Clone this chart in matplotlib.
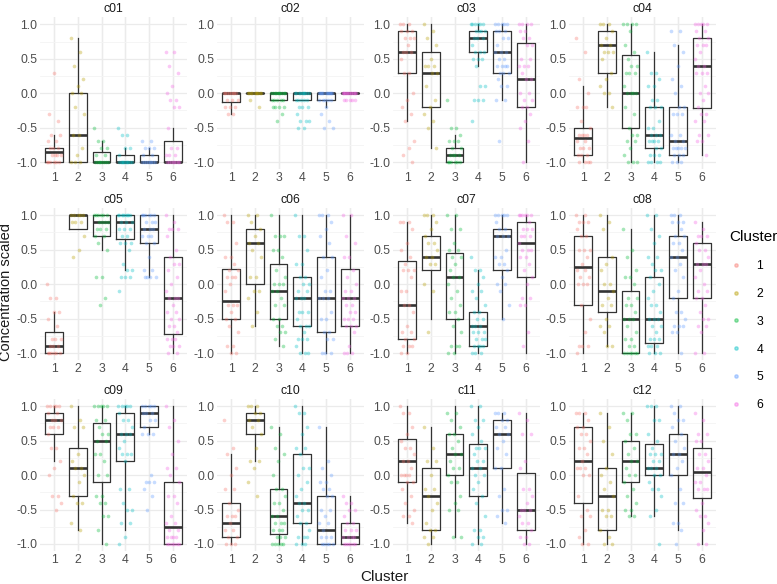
import numpy as np
import matplotlib
matplotlib.use('Agg')
from matplotlib import pyplot as plt
from matplotlib.lines import Line2D

# cluster colours (ggplot hue palette)
colors = ['#F8766D', '#B79F00', '#00BA38', '#00BFC4', '#619CFF', '#F564E3']
clusters = [1, 2, 3, 4, 5, 6]
panels = ['c01', 'c02', 'c03', 'c04', 'c05', 'c06', 'c07', 'c08', 'c09', 'c10', 'c11', 'c12']

# box stats per cluster: (whisker low, q1, median, q3, whisker high)
c01_box = [(-1.0, -1.0, -0.85, -0.8, -0.6), (-1.0, -1.0, -0.6, 0.0, 0.8), (-1.0, -1.0, -1.0, -0.85, -0.7),
           (-1.0, -1.0, -1.0, -0.9, -0.8), (-1.0, -1.0, -1.0, -0.9, -0.8), (-1.0, -1.0, -1.0, -0.7, -0.5)]
c02_box = [(-0.3, -0.125, 0.0, 0.0, 0.0), (0.0, 0.0, 0.0, 0.0, 0.0), (-0.1, -0.1, 0.0, 0.0, 0.0),
           (-0.1, -0.1, 0.0, 0.0, 0.0), (-0.2, -0.1, 0.0, 0.0, 0.0), (0.0, 0.0, 0.0, 0.0, 0.0)]
c03_box = [(-0.4, 0.3, 0.6, 0.9, 1.0), (-0.8, -0.2, 0.3, 0.6, 1.0), (-1.0, -1.0, -0.9, -0.8, -0.6),
           (0.4, 0.6, 0.8, 0.9, 1.0), (-0.1, 0.3, 0.6, 0.9, 1.0), (-1.0, -0.2, 0.2, 0.73, 1.0)]
c04_box = [(-1.0, -0.9, -0.65, -0.5, 0.1), (-0.2, 0.3, 0.7, 0.9, 1.0), (-1.0, -0.5, 0.0, 0.55, 1.0),
           (-1.0, -0.8, -0.6, -0.2, 0.6), (-1.0, -0.9, -0.7, -0.2, 0.7), (-0.9, -0.22, 0.4, 0.8, 1.0)]
c05_box = [(-1.0, -1.0, -0.9, -0.7, -0.4), (0.8, 0.8, 1.0, 1.0, 1.0), (0.5, 0.7, 0.9, 1.0, 1.0),
           (0.2, 0.65, 0.9, 1.0, 1.0), (0.1, 0.6, 0.8, 1.0, 1.0), (-1.0, -0.72, -0.2, 0.4, 1.0)]
c06_box = [(-1.0, -0.5, -0.25, 0.22, 1.0), (-0.6, 0.0, 0.6, 0.8, 1.0), (-0.9, -0.5, -0.1, 0.3, 1.0),
           (-1.0, -0.6, -0.2, 0.1, 1.0), (-1.0, -0.7, -0.2, 0.4, 1.0), (-1.0, -0.6, -0.2, 0.22, 1.0)]
c07_box = [(-1.0, -0.8, -0.3, 0.33, 0.9), (-0.5, 0.2, 0.4, 0.7, 1.0), (-1.0, -0.5, 0.1, 0.45, 1.0),
           (-1.0, -0.9, -0.6, -0.4, 0.2), (-0.5, 0.2, 0.7, 0.8, 1.0), (-1.0, 0.1, 0.6, 0.9, 1.0)]
c08_box = [(-1.0, -0.3, 0.25, 0.7, 1.0), (-0.9, -0.4, -0.1, 0.4, 1.0), (-1.0, -1.0, -0.5, -0.1, 0.8),
           (-1.0, -0.85, -0.5, 0.1, 1.0), (-1.0, -0.2, 0.4, 0.7, 1.0), (-1.0, -0.2, 0.3, 0.6, 0.9)]
c09_box = [(0.2, 0.6, 0.8, 0.9, 1.0), (-0.8, -0.3, 0.1, 0.4, 1.0), (-1.0, -0.1, 0.5, 0.75, 1.0),
           (-0.8, 0.2, 0.6, 0.9, 1.0), (0.6, 0.7, 0.9, 1.0, 1.0), (-1.0, -1.0, -0.75, -0.1, 1.0)]
c10_box = [(-1.0, -0.9, -0.7, -0.4, 0.3), (0.2, 0.6, 0.8, 0.9, 1.0), (-1.0, -0.85, -0.6, -0.2, 0.7),
           (-1.0, -0.7, -0.4, 0.3, 1.0), (-1.0, -1.0, -0.8, -0.3, 0.7), (-1.0, -1.0, -0.9, -0.7, -0.3)]
c11_box = [(-0.7, -0.1, 0.2, 0.53, 1.0), (-1.0, -0.8, -0.3, 0.1, 0.7), (-0.9, 0.0, 0.3, 0.6, 1.0),
           (-1.0, -0.3, 0.1, 0.45, 1.0), (-0.7, 0.1, 0.6, 0.8, 0.9), (-1.0, -0.8, -0.5, 0.03, 0.9)]
c12_box = [(-1.0, -0.4, 0.2, 0.7, 0.9), (-1.0, -0.8, -0.3, 0.1, 0.9), (-0.6, -0.1, 0.2, 0.5, 0.9),
           (-0.6, 0.0, 0.1, 0.45, 1.0), (-0.8, 0.0, 0.3, 0.6, 1.0), (-1.0, -0.33, 0.05, 0.4, 1.0)]

# observed values per cluster, "v*n" = value repeated n times
c01_pts = ['-1.0*6 -0.9*4 -0.8*3 -0.7*2 -0.6*2 0.3 -0.3 -0.4',
           '0.8 0.6 0.4 0.2 0.1 0.0 0.0 -0.2 -0.3 -0.6 -0.6 -0.8 -0.9 -1.0*3',
           '-0.5 -0.7*2 -0.8*2 -0.9*2 -1.0*8',
           '-0.5 -0.6*2 -0.8*2 -0.9 -1.0*10',
           '-0.7*2 -0.8*3 -0.9*2 -1.0*8',
           '0.6*2 0.4 0.3 0.1 0.0 -0.1*2 -0.2*2 -0.5 -0.8*2 -0.9*3 -1.0*8']
c02_pts = ['0.0*8 -0.1*3 -0.2*3 -0.3*2',
           '0.0*10 -0.1 -0.2',
           '0.0*10 -0.1*5 -0.2*4 -0.3 -0.4',
           '0.0*10 -0.1*5 -0.2*3 -0.3 -0.4*3 -0.5*2',
           '0.0*12 -0.1*5 -0.2 -0.3 -0.4 -0.5*2',
           '0.0*14 -0.1*5']
c03_pts = ['1.0*3 0.9*3 0.8*3 0.7 0.6*3 0.5 0.3*2 0.0 -0.1 -0.2 -0.3 -0.4 -0.7 -0.8 -0.9 -1.0',
           '1.0 0.9 0.8 0.7 0.5 0.4*3 0.3*2 0.1 -0.1 -0.2 -0.3 -0.4 -0.5 -0.8',
           '-0.1 -0.5*2 -0.6 -0.7*3 -0.8*2 -0.9*4 -1.0*6',
           '1.0*6 0.9*4 0.8*3 0.7 0.6*3 0.5*3 0.4 0.1*2 -0.1*3 -0.4',
           '1.0*5 0.9*3 0.8*2 0.7 0.6*3 0.5*2 0.4*4 0.3*3 0.2 0.1*2 -0.1*2 -0.7',
           '1.0*4 0.9*2 0.8*2 0.7*2 0.5*2 0.4*3 0.3 0.2*2 0.0*2 -0.1*2 -0.2*2 -0.3 -0.4 -0.5 -0.7 -1.0']
c04_pts = ['0.8 0.6 0.2 0.0 -0.2*3 -0.4 -0.5 -0.6*4 -0.7*2 -0.8*3 -0.9*3 -1.0*4',
           '1.0*3 0.9 0.8 0.7*2 0.6*3 0.5 0.3 0.2 0.1 0.0*2 -0.2',
           '1.0*4 0.9 0.7 0.6 0.5 0.4*2 0.3*3 0.1 0.0*4 -0.2 -0.3 -0.5 -0.6*2 -0.7*2 -0.8 -0.9 -1.0*3',
           '0.6 0.3*2 0.2 0.1*2 -0.1*2 -0.2*3 -0.4 -0.5*2 -0.6*3 -0.7*4 -0.8*2 -0.9*3 -1.0*4',
           '0.9*2 0.7 0.6 0.4 0.2 0.1 0.0 -0.2*2 -0.3*3 -0.6*2 -0.7*2 -0.8*5 -0.9*3 -1.0*3',
           '1.0*5 0.9*2 0.8*2 0.7*3 0.6 0.5 0.4*2 0.3*3 0.1 0.0*2 -0.1 -0.2 -0.3*2 -0.4*2 -0.6*2 -0.7*2 -0.9']
c05_pts = ['0.0 -0.2*2 -0.4*2 -0.5 -0.6 -0.8*3 -0.9*3 -1.0*6',
           '1.0*5 0.9*3 0.7 0.5 0.4',
           '1.0*6 0.9*4 0.8*3 0.7*2 0.6 0.5 0.1*2 -0.2 -0.3',
           '1.0*8 0.9*3 0.8*3 0.7*2 0.6*3 0.5 0.3 0.2*2 0.1*3 -0.1',
           '1.0*6 0.9*3 0.8*3 0.7*3 0.6*2 0.4 0.2*2 0.1*4',
           '1.0 0.9 0.8*3 0.7 0.5 0.4 0.3*2 0.2 0.1 0.0 -0.1 -0.2*3 -0.3 -0.4*2 -0.5*2 -0.6*2 -0.7 -0.8*3 -0.9*3 -1.0*2']
c06_pts = ['1.0 0.9*2 0.6 0.4*2 0.3 0.2*2 0.1*3 0.0 -0.1 -0.3*3 -0.4 -0.5*2 -0.6 -0.7 -0.9*2 -1.0*2',
           '1.0*2 0.9 0.8 0.7 0.6*2 0.5 0.4 0.1*2 -0.1*2 -0.2 -0.4 -0.6',
           '1.0 0.7*3 0.5*2 0.4 0.2 0.1 0.0*3 -0.1*2 -0.2 -0.3*2 -0.5*2 -0.6*2 -0.7*2 -0.8 -0.9',
           '1.0 0.7*2 0.5 0.3*2 0.1*2 0.0*2 -0.1*2 -0.2*3 -0.4*3 -0.5 -0.6*3 -0.7 -0.8*3 -0.9 -1.0*3',
           '1.0*3 0.9 0.8 0.7 0.6 0.4*2 0.2 0.1 -0.1*2 -0.2*3 -0.4 -0.5*2 -0.7*2 -0.8*2 -1.0*3',
           '1.0*2 0.7 0.6 0.4*2 0.2 0.1 0.0 -0.1*2 -0.2*3 -0.3*2 -0.4*2 -0.5*3 -0.6*3 -0.7 -0.9 -1.0*3']
c07_pts = ['0.9*3 0.8 0.6 0.5 0.4 0.3 0.2*3 0.1 -0.1*2 -0.3*2 -0.4 -0.6 -0.7*2 -0.8*2 -0.9*3 -1.0*2',
           '1.0*3 0.9 0.8 0.7 0.6*2 0.5 0.4*2 0.3*2 0.0 -0.1 -0.7',
           '1.0*2 0.8*2 0.6 0.5*2 0.4*2 0.3 0.2 0.1*2 0.0 -0.1 -0.2 -0.3 -0.4*2 -0.5 -0.6 -0.7 -0.9*3 -1.0*2',
           '0.4 0.2*2 0.1 0.0 -0.1*2 -0.2 -0.3 -0.4*2 -0.5*2 -0.6*3 -0.7*3 -0.8*3 -0.9*4 -1.0*3',
           '1.0*5 0.9 0.8*2 0.7*3 0.5 0.4*2 0.3*2 0.2 0.1 0.0*2 -0.1 -0.3 -0.5',
           '1.0*6 0.9 0.8*3 0.7*3 0.6 0.5*3 0.4*2 0.3 0.2 0.1 0.0 -0.2*2 -0.3*2 -0.7 -0.9']
c08_pts = ['1.0*2 0.9*3 0.8 0.7*2 0.5*3 0.4 0.3 0.2*2 0.1*2 0.0*3 -0.3 -0.5 -0.7 -0.9*3 -1.0',
           '1.0 0.9 0.8 0.4 0.3 0.2 0.0*2 -0.1 -0.2 -0.3*2 -0.5 -0.6*2 -0.7 -0.9*2',
           '0.8 0.5 0.4 0.2 0.1*2 0.0 -0.2*2 -0.3*2 -0.4 -0.5*3 -0.6 -0.7 -0.8*2 -0.9*2 -1.0*6',
           '1.0*2 0.8 0.7 0.6 0.4*2 0.3 0.2*2 0.1 0.0 -0.1 -0.2 -0.3*2 -0.4 -0.5*3 -0.6*2 -0.7 -0.8*3 -0.9*3 -1.0*3',
           '1.0*3 0.9*3 0.8 0.7*2 0.6*2 0.5 0.4*2 0.3 0.2 0.1 -0.1 -0.2 -0.4*2 -0.5 -0.6*3 -0.7*2 -1.0',
           '0.9 0.8 0.7*3 0.6 0.5*2 0.4 0.3*3 0.2 0.1 0.0 -0.1*2 -0.2*2 -0.3 -0.4 -0.5*2 -0.6*2 -0.7 -1.0*2']
c09_pts = ['1.0*5 0.9*2 0.8*3 0.7*3 0.6 0.4*2 0.2 0.1 0.0 -0.3*2 -0.4 -0.5',
           '1.0 0.8 0.7*2 0.3 0.2 0.1*2 0.0 -0.1 -0.3 -0.4*2 -0.7 -0.8',
           '1.0*5 0.8*2 0.7 0.6*2 0.5*2 0.3*2 0.2 0.0*2 -0.3*2 -0.4*2 -0.6*2 -0.8 -1.0',
           '1.0*5 0.9 0.8*2 0.7 0.6*3 0.5 0.4 0.3*3 0.2 -0.2*2 -0.4 -0.5*2 -0.7*2 -0.9 -1.0',
           '1.0*5 0.9*3 0.8*2 0.7 0.6*3 0.0 -0.1*3 -0.2 -0.3 -0.5',
           '1.0 0.8 0.7 0.5 0.3 0.1*2 0.0 -0.1 -0.3*2 -0.4 -0.6 -0.7*2 -0.8*2 -0.9*4 -1.0*6']
c10_pts = ['0.8 0.4 0.3 0.1 0.0 -0.2*2 -0.4 -0.5 -0.6*3 -0.7 -0.8*2 -0.9*2 -1.0*3',
           '1.0*3 0.9*2 0.8*2 0.7 0.6 0.4 0.2*2 0.1 -0.1 -0.3',
           '0.7 0.6 0.4 0.3 0.2 0.0 -0.2*2 -0.3 -0.4*2 -0.5 -0.6*2 -0.7*3 -0.8*3 -0.9*3 -1.0*5',
           '1.0 0.9*2 0.7 0.6 0.4*2 0.3 0.1*2 0.0 -0.1 -0.2 -0.3 -0.4*2 -0.5*2 -0.6 -0.7*2 -0.8 -0.9*3 -1.0*3',
           '0.7 0.2 0.1 0.0 -0.1*2 -0.2*2 -0.3*2 -0.5*2 -0.6 -0.7*2 -0.8 -0.9*3 -1.0*5',
           '-0.3 -0.4*2 -0.5*2 -0.6 -0.7*2 -0.8*3 -0.9*4 -1.0*6']
c11_pts = ['1.0 0.9*2 0.7 0.6 0.5 0.4*2 0.3 0.2*2 0.1 0.0*4 -0.1*2 -0.2 -0.3 -0.4 -0.5 -0.6*2 -0.7',
           '0.7 0.4 0.2*2 0.0 -0.2*2 -0.3 -0.4 -0.5 -0.7 -0.8*2 -0.9*2 -1.0',
           '0.9*2 0.8 0.7 0.6*2 0.5 0.4 0.3*2 0.2 0.1*2 0.0 -0.1*2 -0.3 -0.4 -0.5*2 -0.9*2',
           '1.0*2 0.8*2 0.7 0.6 0.5 0.4*3 0.3 0.2*2 0.1*2 0.0*2 -0.1 -0.2 -0.3 -0.4 -0.6 -0.8*2 -0.9*2 -1.0*2',
           '0.9*3 0.8*2 0.7*2 0.6*2 0.5 0.4 0.3 0.1*2 -0.2 -0.3 -0.5*2 -0.6 -0.7',
           '0.9 0.8 0.6*2 0.2 0.1 -0.2*2 -0.3 -0.4 -0.5*3 -0.6 -0.7*2 -0.8 -0.9*2 -1.0*2']
c12_pts = ['0.9*3 0.8 0.7*2 0.6*2 0.5 0.4*2 0.3 0.2 0.1*3 0.0*2 -0.3 -0.5 -0.6*2 -0.8 -0.9 -1.0*2',
           '0.9 0.7 0.5 0.3 0.1 0.0 -0.1 -0.2 -0.3 -0.5*2 -0.6*2 -0.8 -0.9 -1.0*2',
           '0.9*2 0.8 0.6*2 0.5 0.4 0.3 0.2*2 0.1 0.0*2 -0.1 -0.2 -0.3 -0.4 -0.5*2 -0.6*2',
           '1.0*3 0.8*2 0.6 0.5 0.4 0.3*3 0.2*2 0.1*3 0.0*2 -0.1 -0.2*2 -0.3 -0.5 -0.6 -1.0',
           '1.0*2 0.9 0.8*2 0.7 0.6 0.5 0.4 0.3*2 0.2 0.1 0.0 -0.2 -0.4*2 -0.7*2 -0.8 -1.0',
           '0.9 0.8 0.6*2 0.5*2 0.3*2 0.2 0.1*2 0.0 -0.1*2 -0.2*3 -0.4 -0.5 -0.6*2 -0.7 -0.8 -1.0*2']

boxes = [c01_box, c02_box, c03_box, c04_box, c05_box, c06_box,
         c07_box, c08_box, c09_box, c10_box, c11_box, c12_box]
points = [c01_pts, c02_pts, c03_pts, c04_pts, c05_pts, c06_pts,
          c07_pts, c08_pts, c09_pts, c10_pts, c11_pts, c12_pts]


def parse(s):
    out = []
    for tok in s.split():
        if '*' in tok:
            v, n = tok.split('*')
            out += [float(v)] * int(n)
        else:
            out.append(float(tok))
    return out


plt.rcParams['font.family'] = ['Liberation Sans', 'DejaVu Sans']
fig = plt.figure(figsize=(7.77, 5.84), dpi=100)

lefts = [0.0515, 0.2793, 0.5058, 0.7323]
bottoms = [0.7106, 0.3836, 0.0567]
w, h = 0.189, 0.2596

for k, name in enumerate(panels):
    r, c = divmod(k, 4)
    ax = fig.add_axes([lefts[c], bottoms[r], w, h])
    ax.set_xlim(0.4, 6.6)
    ax.set_ylim(-1.1, 1.1)
    ax.set_yticks([-1.0, -0.5, 0.0, 0.5, 1.0])
    ax.set_yticks([-0.75, -0.25, 0.25, 0.75], minor=True)
    ax.set_xticks(clusters)
    ax.set_yticklabels(['-1.0', '-0.5', '0.0', '0.5', '1.0'])
    ax.grid(True, which='major', color='#EBEBEB', lw=0.9)
    ax.grid(True, which='minor', axis='y', color='#F4F4F4', lw=0.6)
    ax.set_axisbelow(True)
    for s in ax.spines.values():
        s.set_visible(False)
    ax.tick_params(which='both', length=0, labelsize=8.8, labelcolor='#4D4D4D', pad=2)
    ax.set_title(name, fontsize=8.8, color='#1A1A1A', pad=4)

    stats = []
    for b in boxes[k]:
        stats.append(dict(whislo=b[0], q1=b[1], med=b[2], q3=b[3], whishi=b[4], fliers=[]))
    ax.bxp(stats, positions=clusters, widths=0.75, showfliers=False, showcaps=False,
           boxprops=dict(color='#333333', lw=0.9),
           whiskerprops=dict(color='#333333', lw=0.9),
           medianprops=dict(color='#333333', lw=1.9), zorder=2)

    for i, s in enumerate(points[k]):
        ys = parse(s)
        n = len(ys)
        # deterministic spread within +-0.3 of the cluster position
        offs = ((np.arange(n) * 0.618) % 1.0 - 0.5) * 0.6
        ax.scatter(clusters[i] + offs, ys, s=7, color=colors[i], alpha=0.35,
                   linewidths=0, zorder=3)

fig.text(0.0075, 0.5, 'Concentration scaled', rotation=90, va='center', ha='center',
         fontsize=10.5, color='#1A1A1A')
fig.text(0.495, 0.012, 'Cluster', ha='center', va='center', fontsize=11, color='#1A1A1A')

handles = [Line2D([], [], ls='', marker='o', ms=2.4, color=colors[i], alpha=0.4) for i in range(6)]
leg = fig.legend(handles, [str(c) for c in clusters], title='Cluster', loc='upper left',
                 bbox_to_anchor=(0.925, 0.625), frameon=False, fontsize=8.8,
                 title_fontsize=11, labelspacing=1.3, handletextpad=1.2, handlelength=1.0)
leg._legend_box.align = 'left'

fig.savefig('out.png', dpi=100)
